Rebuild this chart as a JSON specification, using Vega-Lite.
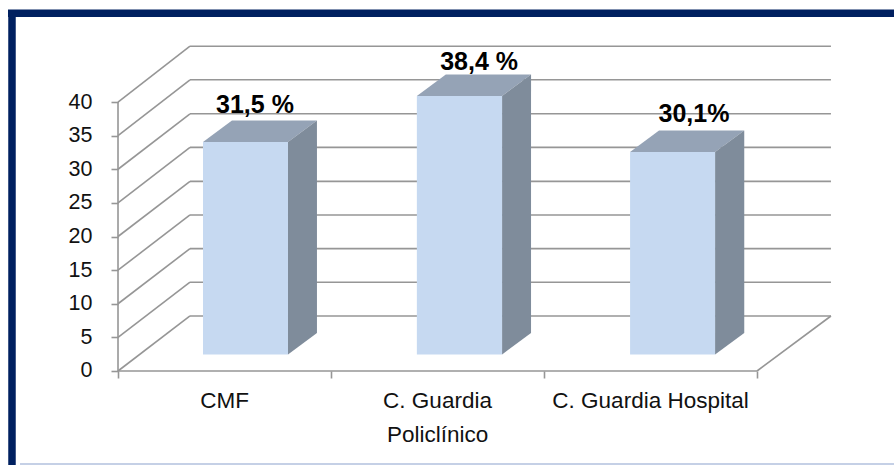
{
"$schema":"https://vega.github.io/schema/vega-lite/v6.json",
"width":894,"height":465,"padding":0,"autosize":{"type":"none"},"background":"white",
"config":{"view":{"stroke":null}},
"datasets":{
"grid":[
{"x":0.338,"x2":3.347,"y":8.18,"y2":8.18},{"x":0.338,"x2":3.347,"y":13.2,"y2":13.2},{"x":0.338,"x2":3.347,"y":18.2,"y2":18.2},{"x":0.338,"x2":3.347,"y":23.2,"y2":23.2},{"x":0.338,"x2":3.347,"y":28.2,"y2":28.2},{"x":0.338,"x2":3.347,"y":33.25,"y2":33.25},{"x":0.338,"x2":3.347,"y":38.25,"y2":38.25},{"x":0.338,"x2":3.347,"y":43.3,"y2":43.3},{"x":0.338,"x2":3.347,"y":48.3,"y2":48.3},
{"x":0,"x2":0.338,"y":0,"y2":8.18},{"x":0,"x2":0.338,"y":5,"y2":13.2},{"x":0,"x2":0.338,"y":10,"y2":18.2},{"x":0,"x2":0.338,"y":15,"y2":23.2},{"x":0,"x2":0.338,"y":20,"y2":28.2},{"x":0,"x2":0.338,"y":25,"y2":33.25},{"x":0,"x2":0.338,"y":30,"y2":38.25},{"x":0,"x2":0.338,"y":35,"y2":43.3},{"x":0,"x2":0.338,"y":40,"y2":48.3},
{"x":3,"x2":3.347,"y":0,"y2":8.18},
{"x":0,"x2":3,"y":0,"y2":0},
{"x":0,"x2":0,"y":0,"y2":40}
],
"faces":[
{"bar":"CMF","face":"top","x":0.399,"y":34.05,"y2":34.05},{"bar":"CMF","face":"top","x":0.535,"y":37.25,"y2":34.05},{"bar":"CMF","face":"top","x":0.798,"y":37.25,"y2":34.05},{"bar":"CMF","face":"top","x":0.934,"y":37.25,"y2":37.25},
{"bar":"CMF","face":"side","x":0.798,"y":34.05,"y2":2.45},{"bar":"CMF","face":"side","x":0.934,"y":37.25,"y2":5.65},
{"bar":"Pol","face":"top","x":1.403,"y":40.9,"y2":40.9},{"bar":"Pol","face":"top","x":1.539,"y":44.1,"y2":40.9},{"bar":"Pol","face":"top","x":1.803,"y":44.1,"y2":40.9},{"bar":"Pol","face":"top","x":1.939,"y":44.1,"y2":44.1},
{"bar":"Pol","face":"side","x":1.803,"y":40.9,"y2":2.45},{"bar":"Pol","face":"side","x":1.939,"y":44.1,"y2":5.65},
{"bar":"Hos","face":"top","x":2.404,"y":32.55,"y2":32.55},{"bar":"Hos","face":"top","x":2.54,"y":35.75,"y2":32.55},{"bar":"Hos","face":"top","x":2.803,"y":35.75,"y2":32.55},{"bar":"Hos","face":"top","x":2.94,"y":35.75,"y2":35.75},
{"bar":"Hos","face":"side","x":2.803,"y":32.55,"y2":2.45},{"bar":"Hos","face":"side","x":2.94,"y":35.75,"y2":5.65}
],
"bars":[
{"bar":"CMF","x":0.399,"x2":0.798,"y":34.05,"y2":2.45},
{"bar":"C. Guardia Policlínico","x":1.403,"x2":1.803,"y":40.9,"y2":2.45},
{"bar":"C. Guardia Hospital","x":2.404,"x2":2.803,"y":32.55,"y2":2.45}
],
"values":[
{"label":"31,5 %","x":0.643,"y":38.3},
{"label":"38,4 %","x":1.695,"y":44.7},
{"label":"30,1%","x":2.704,"y":37.0}
],
"cats":[
{"label":"CMF","x":0.5,"y":-2.9},
{"label":"C. Guardia\nPoliclínico","x":1.5,"y":-2.9},
{"label":"C. Guardia Hospital","x":2.5,"y":-2.9}
],
"frame":[
{"x":-0.5164,"x2":3.643,"y":53.2,"y2":53.2,"part":"top"},
{"x":-0.4977,"x2":-0.4977,"y":53.7,"y2":-13.98,"part":"left"}
],
"edge":[
{"x":-0.46,"x2":3.643,"y":-13.83,"y2":-13.83}
]
},
"encoding":{
"x":{"field":"x","type":"quantitative","scale":{"domain":[-0.554,3.643],"nice":false,"zero":false},
"axis":{"values":[0,1,2,3],"labels":false,"offset":-94,"domain":false,"grid":false,"title":null,"tickColor":"#969696","tickWidth":1.6,"tickSize":7}},
"y":{"field":"y","type":"quantitative","scale":{"domain":[-13.98,55.17],"nice":false,"zero":false},
"axis":{"values":[0,5,10,15,20,25,30,35,40],"offset":-118,"domain":false,"grid":false,"title":null,"tickColor":"#969696","tickWidth":1.6,"tickSize":7,"labelPadding":19,"labelFont":"Liberation Sans","labelFontSize":21.5,"labelColor":"#111111"}}
},
"layer":[
{"data":{"name":"grid"},"mark":{"type":"rule","color":"#969696","strokeWidth":1.6},
"encoding":{"x2":{"field":"x2"},"y2":{"field":"y2"}}},
{"data":{"name":"faces"},"mark":{"type":"area","opacity":1},
"encoding":{
"y2":{"field":"y2"},
"detail":{"field":"bar"},
"color":{"field":"face","type":"nominal","legend":null,"scale":{"domain":["top","side"],"range":["#95A3B6","#7F8C9B"]}}}},
{"data":{"name":"bars"},"mark":{"type":"rect","color":"#C6D9F1"},
"encoding":{"x2":{"field":"x2"},"y2":{"field":"y2"}}},
{"data":{"name":"values"},"mark":{"type":"text","font":"Liberation Sans","fontSize":25,"fontWeight":"bold","color":"#000000","align":"center","baseline":"alphabetic"},
"encoding":{"text":{"field":"label"}}},
{"data":{"name":"cats"},"mark":{"type":"text","font":"Liberation Sans","fontSize":22.5,"color":"#111111","align":"center","baseline":"top","lineBreak":"\n","lineHeight":34},
"encoding":{"text":{"field":"label"}}},
{"data":{"name":"frame"},"mark":{"type":"rule","color":"#002060","strokeWidth":7.5},
"encoding":{"x2":{"field":"x2"},"y2":{"field":"y2"}}},
{"data":{"name":"edge"},"mark":{"type":"rule","color":"#C5D0E6","strokeWidth":2},
"encoding":{"x2":{"field":"x2"},"y2":{"field":"y2"}}}
]
}
